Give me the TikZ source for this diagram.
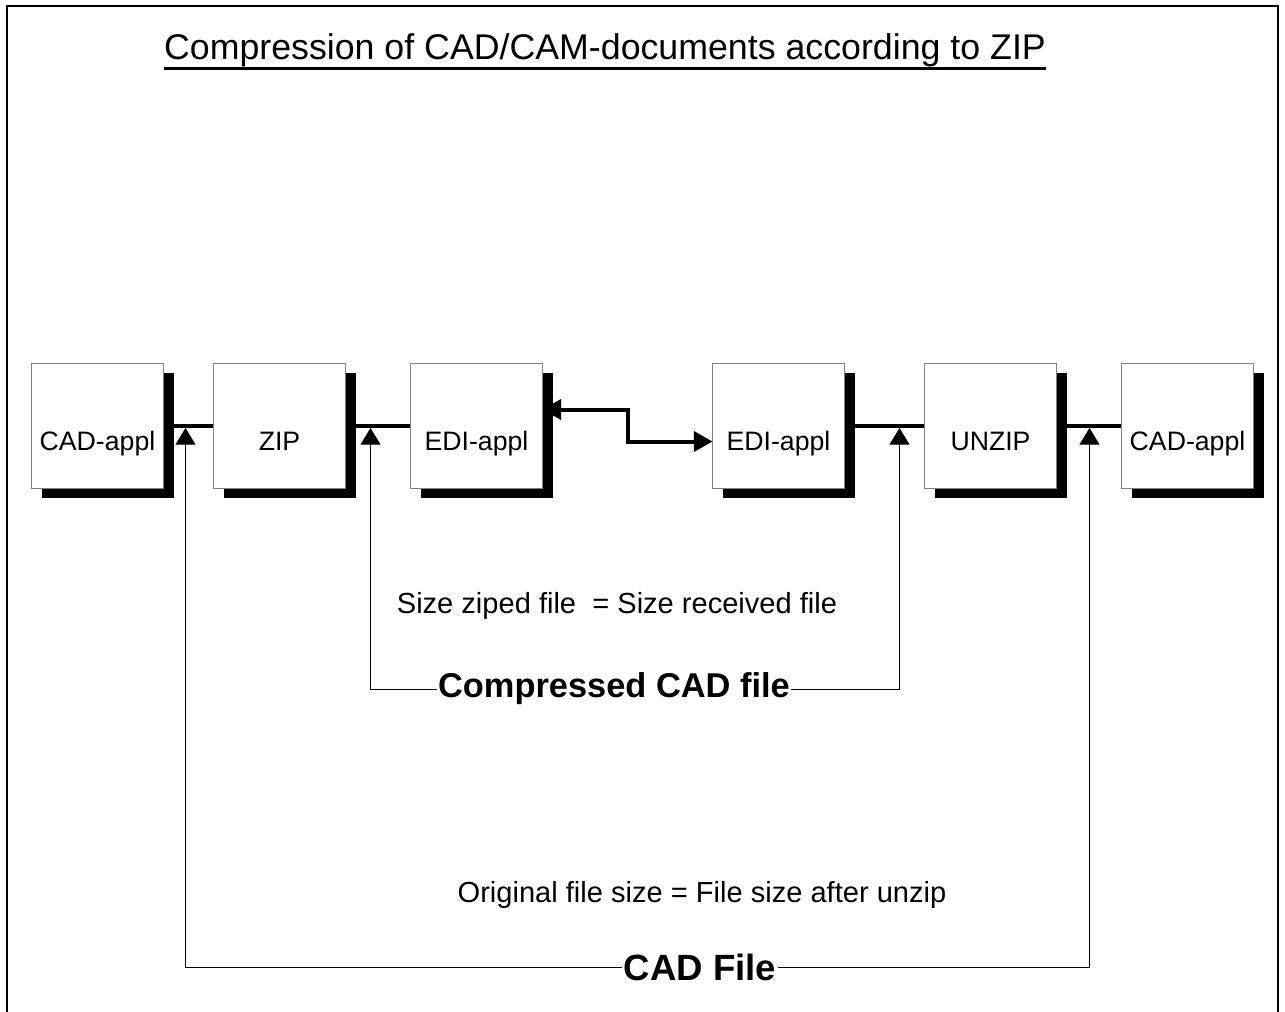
\documentclass[tikz,border=0pt]{standalone}
\usepackage{fontspec}
\setmainfont{Liberation Sans}
\usetikzlibrary{arrows.meta,positioning,shadows,backgrounds}
\tikzset{
  appbox/.style={draw=black!50,fill=white,line width=0.75pt,inner sep=0pt,outer sep=0pt,
                 minimum width=99pt,minimum height=93.75pt,
                 text height=38pt,text depth=0pt,font=\fontsize{20}{24}\selectfont,
                 drop shadow={shadow xshift=7.5pt,shadow yshift=-7.5pt,fill=black,opacity=1}},
  link/.style={line width=3pt,draw=black},
  duplex/.style={link,line join=miter,
                 {Triangle[length=14pt,width=15pt]}-{Triangle[length=14pt,width=15pt]}},
  feed/.style={line width=0.75pt,draw=black,-{Triangle[length=12.5pt,width=15pt]}},
  note/.style={inner sep=0pt,font=\fontsize{21.8}{26}\selectfont},
  tag/.style={fill=white,inner sep=1pt,font=\fontsize{25.8}{30}\bfseries\selectfont},
  frame/.style={line width=1.8pt,line cap=rect}
}
\begin{document}
\begin{tikzpicture}[x=0.75pt,y=-0.75pt]
    \useasboundingbox (0,0) rectangle (1285,1011);
    \draw[frame] (7,1011) -- (7,6) -- (1278,6) -- (1278,1011);
    % heading
    \node[inner sep=0pt,font=\fontsize{26.8}{32}\selectfont] (title) at (605,50)
      {Compression of CAD/CAM-documents according to ZIP};
    \draw[line width=1.8pt] ([shift={(0,1.5)}]title.south west) -- ([shift={(0,1.5)}]title.south east);
    % sender and receiver chain
    \node[appbox] (cad1) at (97.5,425.5) {CAD-appl};
    \node[appbox,right=37.5pt of cad1] (zip) {ZIP};
    \node[appbox,right=48.75pt of zip] (edi1) {EDI-appl};
    \node[appbox,right=127.5pt of edi1] (edi2) {EDI-appl};
    \node[appbox,right=60pt of edi2] (unzip) {UNZIP};
    \node[appbox,right=48.75pt of unzip] (cad2) {CAD-appl};
    \coordinate (j1) at ([shift={(22,2.5)}]cad1.east);
    \coordinate (j2) at ([shift={(25,2.5)}]zip.east);
    \coordinate (j3) at ([shift={(-25,2.5)}]unzip.west);
    \coordinate (j4) at ([shift={(-32,2.5)}]cad2.west);
    \coordinate (turn) at (628,425.5);
    \begin{pgfonlayer}{background}
      \draw[link] (cad1.east) -- (zip.west);
      \draw[link] (zip.east) -- (edi1.west);
      \draw[link] (edi2.east) -- (unzip.west);
      \draw[link] (unzip.east) -- (cad2.west);
      \draw[duplex] ([shift={(0,-16)}]edi1.east) -| (turn) |- ([shift={(0,16)}]edi2.west);
    \end{pgfonlayer}
    % file sizes
    \node[note] (sizezip) at (617,606) {Size ziped file~ = Size received file};
    \node[tag] (cmpr) at (614,689) {Compressed CAD file};
    \draw[feed] (cmpr.west) -| (j2);
    \draw[feed] (cmpr.east) -| (j3);
    \node[note] (sizeorig) at (702,895) {Original file size = File size after unzip};
    \node[tag,font=\fontsize{27.4}{32}\bfseries\selectfont] (cadf) at (700,967) {CAD File};
    \draw[feed] (cadf.west) -| (j1);
    \draw[feed] (cadf.east) -| (j4);
  \end{tikzpicture}
\end{document}
